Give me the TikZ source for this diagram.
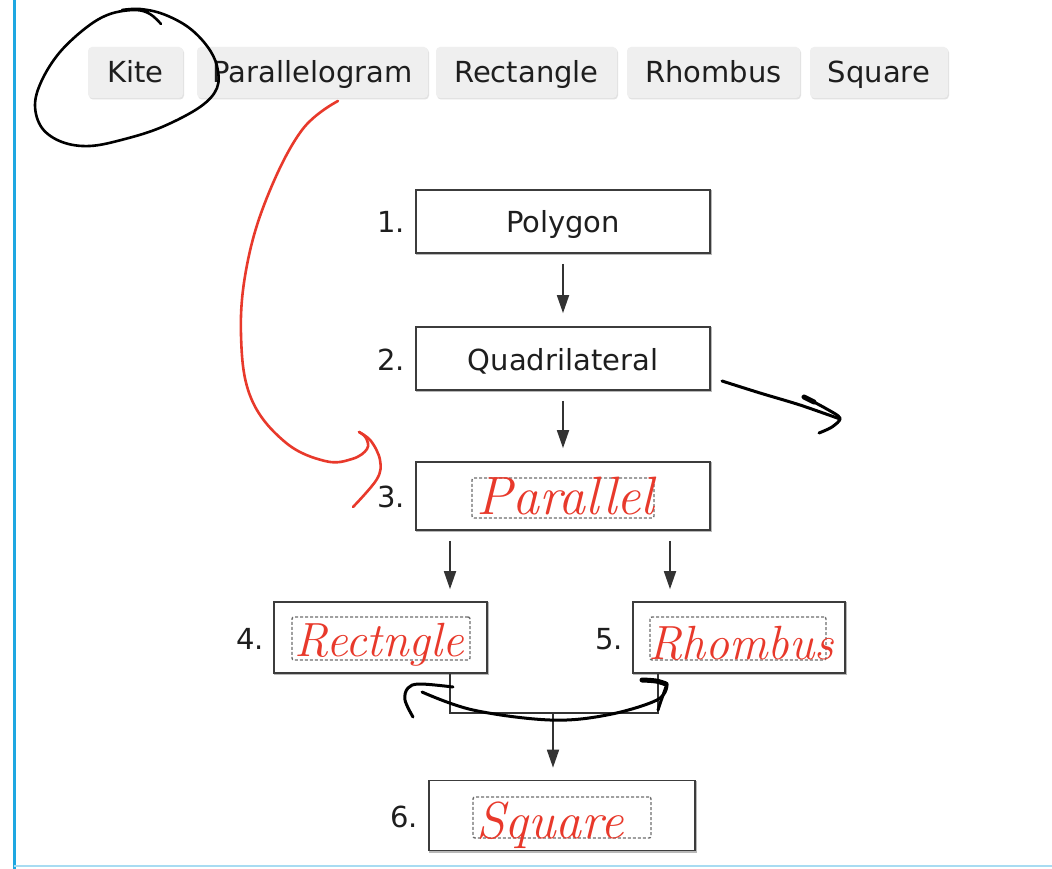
\documentclass[tikz,border=0pt]{standalone}
\usepackage{fontspec}
\newfontfamily\dv{DejaVu Sans}
\usetikzlibrary{arrows.meta,calc}
\definecolor{hred}{HTML}{E8392B}
\definecolor{btngray}{HTML}{EFEFEF}
\definecolor{btnshadow}{HTML}{E2E2E2}
\definecolor{txt}{HTML}{1E1E1E}
\definecolor{boxline}{HTML}{3C3C3C}
\definecolor{boxshadow}{HTML}{B8B8B8}
\definecolor{arrgray}{HTML}{333333}
\definecolor{dashgray}{HTML}{6E6E6E}
\definecolor{sideblue}{HTML}{1EA7E1}
\definecolor{lightblue}{HTML}{A8DCF2}
\begin{document}
\begin{tikzpicture}[x=1pt,y=-1pt,
 btn/.style={fill=btngray, rounded corners=4pt, minimum height=51pt, inner sep=0pt,
   font=\dv\fontsize{29}{32}\selectfont, text=txt, text height=21pt, text depth=0pt,
   preaction={fill=btnshadow, rounded corners=4pt, transform canvas={shift={(1pt,-1.5pt)}}}},
 stepbox/.style={draw=boxline, fill=white, line width=1.7pt, minimum width=294pt, minimum height=63pt, inner sep=0pt,
   font=\dv\fontsize{29}{32}\selectfont, text=txt, text height=23pt, text depth=0pt,
   preaction={draw=boxshadow, line width=1.7pt, transform canvas={shift={(0.8pt,-1.2pt)}}}},
 inbox/.style={draw=dashgray, dash pattern=on 3pt off 2pt, line width=1.4pt, rounded corners=2pt, inner sep=0pt},
 num/.style={anchor=east, font=\dv\fontsize{29}{32}\selectfont, text=txt, inner sep=0pt, text height=23pt, text depth=0pt},
 arr/.style={draw=arrgray, line width=1.8pt, -{Triangle[length=18pt,width=12pt]}},
 ln/.style={draw=arrgray, line width=1.8pt},
 hand/.style={text=hred, font=\itshape\fontsize{48}{52}\selectfont, inner sep=0pt, anchor=base west},
 ink/.style={line width=3pt, line cap=round, line join=round}
]
\useasboundingbox (0,0) rectangle (1052,869);
\fill[white] (0,0) rectangle (1052,869);
% page edges
\draw[sideblue, line width=3pt] (14,0) -- (14,869);
\draw[lightblue, line width=2pt] (14,866) -- (1052,866);

% buttons
\node[btn, minimum width=95pt]  (kite)  at (135.5,72.5) {Kite};
\node[btn, minimum width=231pt] (para)  at (312.5,72.5) {Parallelogram};
\node[btn, minimum width=181pt] (rect)  at (526.5,72.5) {Rectangle};
\node[btn, minimum width=173pt] (rhom)  at (713.5,72.5) {Rhombus};
\node[btn, minimum width=138pt] (squa)  at (879,72.5) {Square};

% flowchart boxes
\node[stepbox] (b1) at (563,221.5) {Polygon};
\node[stepbox] (b2) at (563,358.5) {Quadrilateral};
\node[stepbox, minimum height=68pt] (b3) at (563,496) {};
\node[stepbox, minimum width=213pt, minimum height=71pt] (b4) at (380.5,637.5) {};
\node[stepbox, minimum width=212pt, minimum height=71pt] (b5) at (739,637.5) {};
\node[stepbox, minimum width=266pt, minimum height=70pt] (b6) at (562,815.5) {};

% inner dashed boxes
\node[inbox, minimum width=182pt, minimum height=40pt] (in3) at (563,498) {};
\node[inbox, minimum width=178pt, minimum height=43pt] (in4) at (381,638.5) {};
\node[inbox, minimum width=176pt, minimum height=43pt] (in5) at (738,638.5) {};
\node[inbox, minimum width=178pt, minimum height=41pt] (in6) at (562,817.5) {};

% numbers
\node[num] (n1) at ([xshift=-10pt]b1.west) {1.};
\node[num] (n2) at ([xshift=-10pt]b2.west) {2.};
\node[num] (n3) at ([xshift=-10pt]b3.west) {3.};
\node[num] (n4) at ([xshift=-9pt]b4.west) {4.};
\node[num] (n5) at ([xshift=-9pt]b5.west) {5.};
\node[num] (n6) at ([xshift=-10pt]b6.west) {6.};

% connectors
\coordinate (j4) at (450,713);
\coordinate (j5) at (658,713);
\coordinate (jm) at (553,713);
\coordinate (r5) at (670,0);
\draw[arr, shorten <=10pt, shorten >=13pt] (b1.south) -- (b2.north);
\draw[arr, shorten <=10pt, shorten >=13pt] (b2.south) -- (b3.north);
\draw[arr, shorten <=10pt, shorten >=12pt] (b3.south -| j4) -- (b4.north -| j4);
\draw[arr, shorten <=10pt, shorten >=12pt] (b3.south -| r5) -- (b5.north -| r5);
\draw[ln] (b4.south -| j4) -- (j4) -- (j5) -- (b5.south -| j5);
\draw[arr, shorten >=12pt] (jm) -- (b6.north -| jm);

% handwritten red words
\node[hand, font=\itshape\fontsize{54}{58}\selectfont] (w3) at (476,514) {Parallel};
\node[hand] (w4) at (294,656) {Rectngle};
\node[hand] (w5) at (648,659) {Rhombus};
\node[hand, font=\itshape\fontsize{52}{56}\selectfont] (w6) at (476,838) {Square};

% black circle around Kite
\draw[ink, black, line width=2.6pt] plot[smooth, tension=0.6] coordinates {
 (161,24) (150,14) (135,10) (110,14) (87,27) (60,52) (42,80) (35,105) (42,128) (62,142)
 (90,146) (125,139) (162,127) (200,107) (217,88) (217,66) (207,46) (188,27) (163,14) (140,9) (122,10)};

% red curved arrow
\draw[ink, hred, line width=2.6pt] plot[smooth, tension=0.65] coordinates {
 (338,101) (302,130) (268,195) (247,265) (241,335) (251,398)
 (285,442) (325,461) (352,459) (367,449) (366,438) (359,432)};
\draw[ink, hred, line width=2.6pt] plot[smooth, tension=0.6] coordinates {
 (359,432) (371,441) (380,460) (377,479) (353,507)};

% black arrow to the right
\draw[ink, black] plot[smooth, tension=0.5] coordinates {(722,381) (760,393) (800,405) (840,419)};
\draw[ink, black, line width=5pt] (804,397) -- (814,402);
\draw[ink, black] plot[smooth, tension=0.5] coordinates {(806,398) (825,408) (840,418) (832,427) (819,433)};

% black double curved arrow
\draw[ink, black] plot[smooth, tension=0.6] coordinates {
 (422,692) (473,710) (550,720) (607,715) (657,700) (667,685)};
\draw[ink, black] plot[smooth, tension=0.6] coordinates {
 (413,717) (405,700) (408,688) (420,684) (453,687)};
\draw[ink, black, line width=5pt] plot[smooth, tension=0.6] coordinates {(642,680) (656,681) (666,684)};
\draw[ink, black] plot[smooth, tension=0.6] coordinates {(667,684) (662,698) (658,710)};
\end{tikzpicture}
\end{document}
